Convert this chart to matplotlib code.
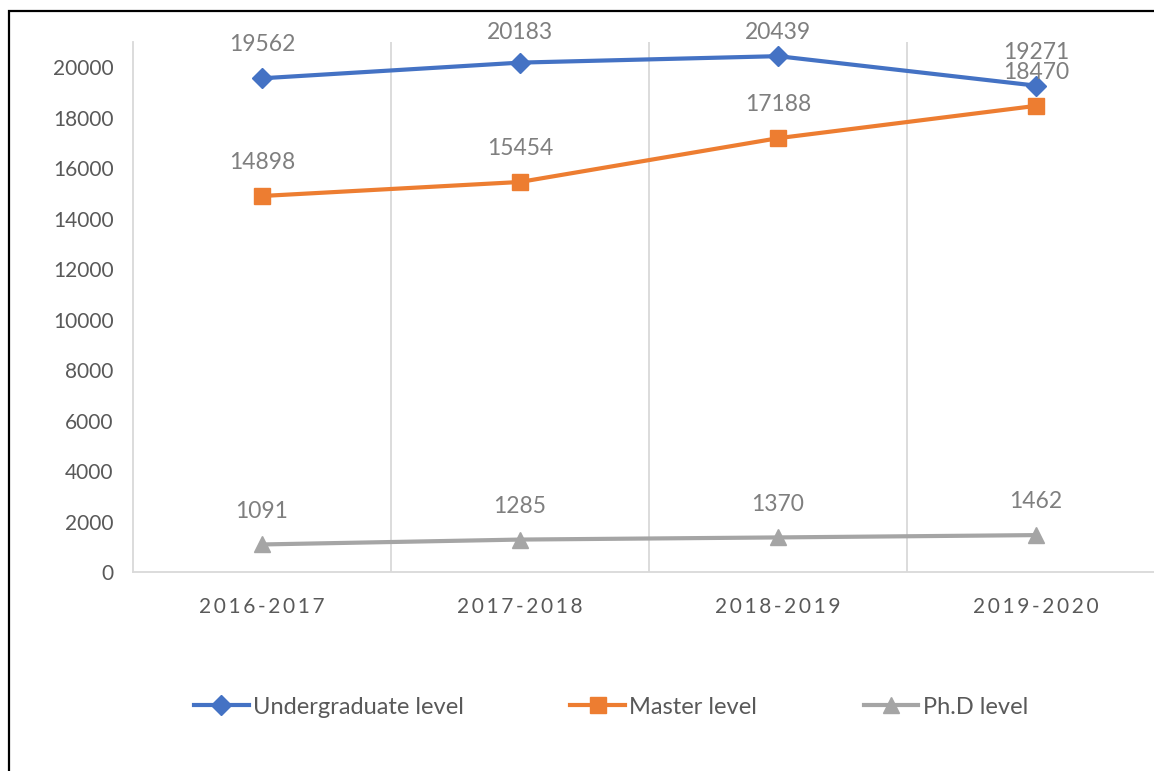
import matplotlib.pyplot as plt
from matplotlib.patches import Rectangle

plt.rcParams['font.family'] = ['Lato', 'DejaVu Sans']

years = ['2016-2017', '2017-2018', '2018-2019', '2019-2020']
undergrad = [19562, 20183, 20439, 19271]
master = [14898, 15454, 17188, 18470]
phd = [1091, 1285, 1370, 1462]

series = [
    ('Undergraduate level', undergrad, '#4472C4', 'D', 10.5),
    ('Master level', master, '#ED7D31', 's', 11.5),
    ('Ph.D level', phd, '#A5A5A5', '^', 12),
]

W, H = 1154, 771
fig = plt.figure(figsize=(W / 100, H / 100), dpi=100)
ax = fig.add_axes([133 / W, 1 - 572 / H, (1165 - 133) / W, (572 - 42) / H])
ymax = 21000

x = range(len(years))
for name, vals, col, mk, ms in series:
    ax.plot(x, vals, color=col, lw=3, marker=mk, markersize=ms, label=name)
    for xi, v in zip(x, vals):
        # labels sit above the point, but excel keeps them inside the chart box
        off = min(24, (ymax * 1.0176 - v) / ymax * 530 * 0.72)
        ax.annotate(str(v), (xi, v), xytext=(0, off), textcoords='offset points',
                    ha='center', va='center', fontsize=16.5, color='#7F7F7F',
                    annotation_clip=False)

ax.set_xlim(-0.5, 3.5)
ax.set_ylim(0, ymax)
ax.set_yticks(range(0, 20001, 2000))
ax.set_yticklabels([str(v) for v in range(0, 20001, 2000)])
ax.set_xticks(list(x))
ax.set_xticklabels(['\u2009'.join(y) for y in years])
ax.tick_params(axis='both', length=0, colors='#595959', labelsize=15)
ax.tick_params(axis='x', pad=18)
ax.tick_params(axis='y', pad=14)

# category boundaries as vertical gridlines
for b in [0.5, 1.5, 2.5, 3.5]:
    ax.axvline(b, color='#D9D9D9', lw=1.3, zorder=0)
for s in ['top', 'right']:
    ax.spines[s].set_visible(False)
for s in ['left', 'bottom']:
    ax.spines[s].set_color('#D9D9D9')
    ax.spines[s].set_linewidth(1.3)

leg = fig.legend(loc='center', bbox_to_anchor=(0.5295, 1 - 707 / H), ncol=3,
                 frameon=False, fontsize=17, handlelength=2.3,
                 handletextpad=0.2, columnspacing=4.5)
for t in leg.get_texts():
    t.set_color('#595959')

fig.add_artist(Rectangle((9 / W, -0.2), 1.2, 1 - 11 / H + 0.2, fill=False,
                         lw=1.6, edgecolor='black', transform=fig.transFigure))

fig.savefig('out.png', dpi=100)
